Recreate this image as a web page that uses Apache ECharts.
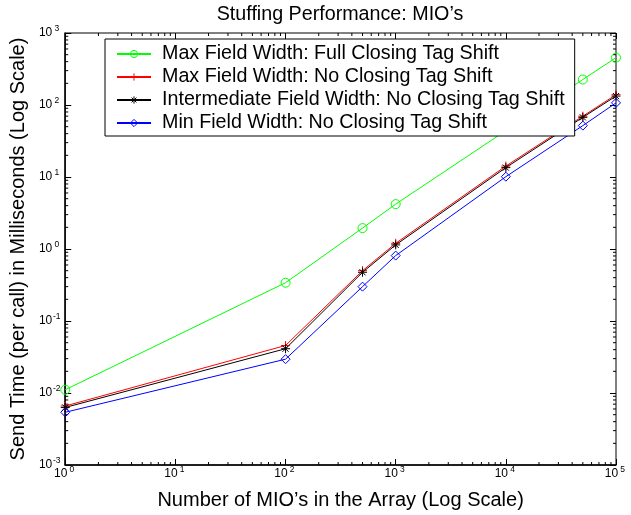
<!DOCTYPE html>
<html><head><meta charset="utf-8">
<script src="https://cdn.jsdelivr.net/npm/echarts@6/dist/echarts.min.js"></script>
<style>html,body{margin:0;padding:0;background:#fff}#c{width:631px;height:515px}</style>
</head><body><div id="c"></div>
<script>
var xValues = [1, 100, 500, 1000, 10000, 50000, 100000];
var seriesNames = [
  'Max Field Width: Full Closing Tag Shift',
  'Max Field Width: No Closing Tag Shift',
  'Intermediate Field Width: No Closing Tag Shift',
  'Min Field Width: No Closing Tag Shift'
];
var maxFullShift = [0.0111, 0.34, 1.95, 4.2, 44, 226, 455];
var maxNoShift   = [0.0066, 0.0457, 0.50, 1.2, 14.2, 70, 139];
var interNoShift = [0.0063, 0.0412, 0.475, 1.14, 13.5, 67.4, 133];
var minNoShift   = [0.0054, 0.0295, 0.30, 0.81, 10.1, 51.7, 107];
var titleText = 'Stuffing Performance: MIO\u2019s';
var xName = 'Number of MIO\u2019s in the Array (Log Scale)';
var yName = 'Send Time (per call) in Milliseconds (Log Scale)';
var xMin = 1, xMax = 100000, yMin = 0.001, yMax = 1000;

var FONT = '"Liberation Sans", Arial, Helvetica, sans-serif';

function pairs(arr){ return xValues.map(function(x,i){ return [x, arr[i]]; }); }

// minor tick positions (2..9 x 10^k)
var minorTicks = [];
for (var k = 0; k < 5; k++) for (var m = 2; m < 10; m++) minorTicks.push([m*Math.pow(10,k), yMin, 0]);
for (var k2 = -3; k2 < 3; k2++) for (var m2 = 2; m2 < 10; m2++) minorTicks.push([xMin, m2*Math.pow(10,k2), 1]);

function expLabel(v){
  var e = Math.round(Math.log10(v));
  return '{b|10}{s|' + e + '}';
}
var labelRich = {
  b: {fontSize: 12, fontFamily: FONT, color: '#000', lineHeight: 14},
  s: {fontSize: 8.5, fontFamily: FONT, color: '#000', lineHeight: 10, padding: [0,0,8,0], width: 9, align: 'left'}
};

function mkLine(name, data, color, symbol, size){
  return {
    name: name, type: 'line', data: pairs(data),
    symbol: symbol, symbolSize: size,
    lineStyle: {color: color, width: 1},
    itemStyle: {color: 'none', borderColor: color, borderWidth: 1},
    emphasis: {disabled: true},
    animation: false, z: 3
  };
}

var plusPath = 'path://M5,0L5,10M0,5L10,5';
var starPath = 'path://M5,0L5,10M0,5L10,5M1.6,1.6L8.4,8.4M8.4,1.6L1.6,8.4';

var chart = echarts.init(document.getElementById('c'), null, {renderer: 'canvas'});
chart.setOption({
  backgroundColor: '#fff',
  animation: false,
  title: {
    text: titleText, left: 340, top: 5, textAlign: 'center', padding: 0,
    textStyle: {fontSize: 19.7, fontWeight: 'normal', fontFamily: FONT, color: '#000'}
  },
  grid: {left: 64, right: 15, top: 33, bottom: 48, show: true, borderColor: '#000', borderWidth: 1, backgroundColor: '#fff'},
  legend: {
    orient: 'vertical', left: 105, top: 39,
    padding: [5, 10, 3, 11], itemGap: 3,
    itemWidth: 34, itemHeight: 9,
    backgroundColor: '#fff', borderColor: '#000', borderWidth: 1,
    itemStyle: {borderWidth: 1},
    textStyle: {fontSize: 19.7, fontFamily: FONT, color: '#000', lineHeight: 20, padding: [0,0,0,6]},
    data: seriesNames
  },
  xAxis: [{
    type: 'log', logBase: 10, min: xMin, max: xMax,
    name: xName, nameLocation: 'middle', nameGap: 25,
    nameTextStyle: {fontSize: 20, fontFamily: FONT, color: '#000'},
    axisLine: {show: true, lineStyle: {color: '#000', width: 1.5}},
    axisTick: {show: true, inside: true, length: 6, lineStyle: {color: '#000'}},
    axisLabel: {formatter: expLabel, rich: labelRich, margin: 2, fontSize: 12, fontFamily: FONT, color: '#000'},
    splitLine: {show: false}
  }, {
    type: 'log', logBase: 10, min: xMin, max: xMax, position: 'top',
    axisLine: {show: false},
    axisTick: {show: true, inside: true, length: 6, lineStyle: {color: '#000'}},
    axisLabel: {show: false}, splitLine: {show: false}
  }],
  yAxis: [{
    type: 'log', logBase: 10, min: yMin, max: yMax,
    name: yName, nameLocation: 'middle', nameGap: 33,
    nameTextStyle: {fontSize: 20, fontFamily: FONT, color: '#000'},
    axisLine: {show: true, lineStyle: {color: '#000', width: 1.5}},
    axisTick: {show: true, inside: true, length: 6, lineStyle: {color: '#000'}},
    axisLabel: {formatter: expLabel, rich: labelRich, margin: 4, fontSize: 12, fontFamily: FONT, color: '#000'},
    splitLine: {show: false}
  }, {
    type: 'log', logBase: 10, min: yMin, max: yMax, position: 'right',
    axisLine: {show: false},
    axisTick: {show: true, inside: true, length: 6, lineStyle: {color: '#000'}},
    axisLabel: {show: false}, splitLine: {show: false}
  }],
  series: [
    mkLine(seriesNames[0], maxFullShift, '#00ff00', 'circle', 9),
    mkLine(seriesNames[1], maxNoShift, '#ff0000', plusPath, 9),
    mkLine(seriesNames[2], interNoShift, '#000000', starPath, 9),
    mkLine(seriesNames[3], minNoShift, '#0000ff', 'diamond', 9),
    {
      type: 'custom', data: minorTicks, silent: true, animation: false, z: 1,
      encode: {x: 0, y: 1},
      renderItem: function(params, api){
        var kind = api.value(2);
        var st = {stroke: '#000', lineWidth: 1};
        if (kind === 0) {
          var a = api.coord([api.value(0), yMin]);
          var b = api.coord([api.value(0), yMax]);
          return {type: 'group', children: [
            {type: 'line', shape: {x1: a[0], y1: a[1], x2: a[0], y2: a[1]-3}, style: st},
            {type: 'line', shape: {x1: b[0], y1: b[1], x2: b[0], y2: b[1]+3}, style: st}
          ]};
        } else {
          var c = api.coord([xMin, api.value(1)]);
          var d = api.coord([xMax, api.value(1)]);
          return {type: 'group', children: [
            {type: 'line', shape: {x1: c[0], y1: c[1], x2: c[0]+3, y2: c[1]}, style: st},
            {type: 'line', shape: {x1: d[0], y1: d[1], x2: d[0]-3, y2: d[1]}, style: st}
          ]};
        }
      }
    }
  ]
});
</script></body></html>
